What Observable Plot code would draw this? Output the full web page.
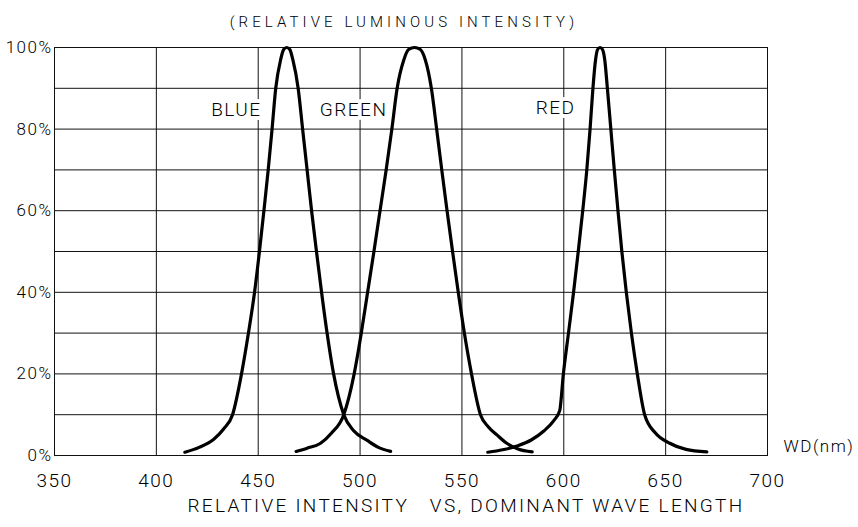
<!DOCTYPE html>
<html>
<head>
<meta charset="utf-8">
<script src="https://cdn.jsdelivr.net/npm/d3@7"></script>
<script src="https://cdn.jsdelivr.net/npm/@observablehq/plot@0.6"></script>
<style>
  html, body { margin: 0; padding: 0; background: #fff; }
  svg text { font-family: Roboto, "DejaVu Sans", sans-serif; font-weight: 300; }
</style>
</head>
<body>
<div id="chart"></div>
<script>
// ---- data ----
const xTicks = [350, 400, 450, 500, 550, 600, 650, 700];
const yTicks = [0, 20, 40, 60, 80, 100];
const yGrid = [0, 10, 20, 30, 40, 50, 60, 70, 80, 90, 100];

// [wavelength nm, relative intensity %]
const blue = [
  [414, 0.8], [421, 2], [428.2, 4], [433, 6.5], [437.4, 10], [441.8, 20], [445.2, 30],
  [448.2, 40], [450.6, 50], [452.8, 60], [454.9, 70], [456.8, 80], [458.6, 90],
  [461, 97], [462.5, 99.5], [464, 100], [465.5, 99.5], [467, 97], [469.6, 90],
  [471.8, 80], [474, 70], [476.2, 60], [478.6, 50], [481.1, 40], [483.8, 30],
  [487, 20], [492, 10], [497, 6], [503.5, 3.7], [509, 2], [515, 1]
];
const green = [
  [468.6, 1], [474, 1.8], [480.6, 3], [486, 5.5], [492, 10], [497.1, 20], [500.6, 30],
  [503.7, 40], [506.8, 50], [509.8, 60], [512.8, 70], [515.6, 80], [518.2, 90],
  [521.5, 97], [523.8, 99.5], [526.7, 100], [529.6, 99.5], [532, 97], [535, 90],
  [537.6, 80], [540.1, 70], [542.7, 60], [545.4, 50], [548.2, 40], [551.2, 30],
  [554.7, 20], [559.1, 10], [563, 7], [567.3, 5], [572, 3], [577.5, 1.6], [584.5, 0.9]
];
const red = [
  [562.7, 0.8], [570, 1.4], [577.5, 2.4], [584, 3.8], [590.2, 6], [595, 8.5], [598, 11],
  [599.8, 20], [602.3, 30], [604.8, 40], [607.1, 50], [609.3, 60], [611.3, 70],
  [612.9, 80], [614.3, 90], [615.6, 97], [616.6, 99.5], [617.8, 100], [619, 99.5],
  [620.1, 97], [621.4, 90], [623.1, 80], [624.8, 70], [626.6, 60], [628.5, 50],
  [630.7, 40], [633.2, 30], [636.1, 20], [639.7, 10], [645, 5.5], [652, 3], [660, 1.5], [670.2, 0.9]
];

const curveNames = ["BLUE", "GREEN", "RED"];
const curveLabelX = [439.3, 496.8, 596];
const curveLabelY = [84.6, 84.6, 85.3];

const titleText = "(RELATIVE LUMINOUS INTENSITY)";
const xUnitText = "WD(nm)";
const bottomText = "RELATIVE INTENSITY\u00a0\u00a0\u00a0VS, DOMINANT WAVE LENGTH";

// ---- chart ----
const labels = curveNames.map((name, i) => ({name, x: curveLabelX[i], y: curveLabelY[i]}));
const lineOpts = {x: d => d[0], y: d => d[1], curve: "monotone-x", stroke: "#000", strokeWidth: 3.2};

const chart = Plot.plot({
  width: 858,
  height: 527,
  marginLeft: 54,
  marginRight: 91,
  marginTop: 47,
  marginBottom: 72,
  style: {background: "#fff", color: "#000", letterSpacing: "1.5px"},
  x: {domain: [350, 700], axis: null, label: null},
  y: {domain: [0, 100], axis: null, label: null},
  marks: [
    Plot.gridX(xTicks, {stroke: "#111", strokeOpacity: 1, strokeWidth: 1}),
    Plot.gridY(yGrid, {stroke: "#111", strokeOpacity: 1, strokeWidth: 1}),
    Plot.frame({stroke: "#111", strokeWidth: 1}),
    Plot.axisX(xTicks, {tickSize: 0, tickPadding: 18, fontSize: 19, label: null, tickFormat: d => String(d)}),
    Plot.axisY(yTicks, {tickSize: 0, tickPadding: 2, fontSize: 17, label: null, tickFormat: d => d + "%"}),
    Plot.text(labels, {x: "x", y: "y", text: "name", fontSize: 19, fill: "#000", stroke: "#fff", strokeWidth: 8}),
    Plot.line(blue, lineOpts),
    Plot.line(green, lineOpts),
    Plot.line(red, lineOpts),
    Plot.text([titleText], {frameAnchor: "top", dx: -7, dy: -31, fontSize: 15}),
    Plot.text([xUnitText], {frameAnchor: "bottom-right", textAnchor: "start", dx: 16, dy: -4, fontSize: 17}),
    Plot.text([bottomText], {frameAnchor: "bottom", dx: 55, dy: 56, fontSize: 19})
  ]
});
document.getElementById("chart").appendChild(chart);

// per-text letter spacing to match the drafting-style lettering
d3.select(chart).selectAll("text").each(function () {
  const t = this.textContent;
  if (t === titleText) d3.select(this).style("letter-spacing", "4.1px");
  else if (t === bottomText) d3.select(this).style("letter-spacing", "2.3px");
});
</script>
</body>
</html>
